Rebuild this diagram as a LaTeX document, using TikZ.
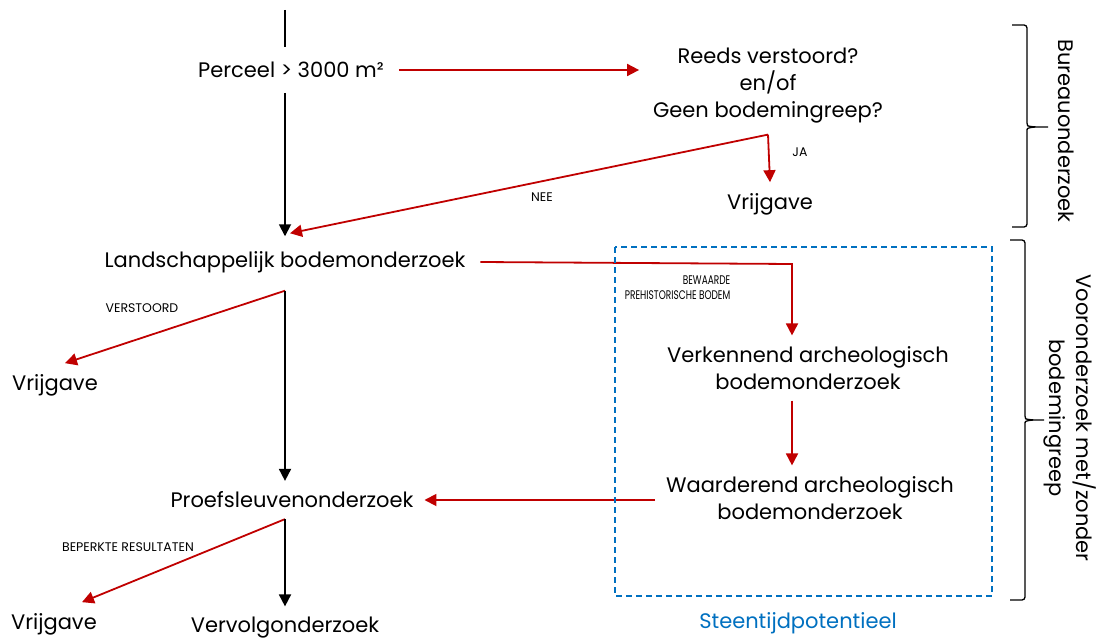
\documentclass[tikz,border=0pt]{standalone}
\usepackage{fontspec}
\setmainfont{Poppins}
\usetikzlibrary{arrows.meta}
\definecolor{rood}{RGB}{192,0,0}
\definecolor{blauw}{RGB}{0,112,192}
\begin{document}
\begin{tikzpicture}[>={Triangle[length=12pt,width=12pt]},x=1pt,y=-1pt,line width=1.8pt,
    stap/.style={font=\fontsize{21}{27}\selectfont,align=center,inner sep=0pt,outer sep=11pt},
    klein/.style={font=\fontsize{12.5}{15}\selectfont,inner sep=0pt},
    ja/.style={->},
    nee/.style={->,rood}]
    \useasboundingbox (0,0) rectangle (1100,639);
    % stappen
    \coordinate (begin) at (285,10);
    \node[stap,outer sep=15pt] (perceel) at (291,70) {Perceel > 3000 m²};
    \node[stap] (reeds) at (768,86) {Reeds verstoord?\\en/of\\Geen bodemingreep?};
    \node[stap] (vrij1) at (770,204) {Vrijgave};
    \node[stap,outer sep=15pt] (landschap) at (285,262) {Landschappelijk bodemonderzoek};
    \node[stap] (vrij2) at (55,385) {Vrijgave};
    \node[stap] (verkennend) at (808,368) {Verkennend archeologisch\\bodemonderzoek};
    \node[stap] (waarderend) at (810,498) {Waarderend archeologisch\\bodemonderzoek};
    \node[stap] (proef) at (292,500) {Proefsleuvenonderzoek};
    \node[stap] (vrij3) at (54,624) {Vrijgave};
    \node[stap] (vervolg) at (285,628) {Vervolgonderzoek};
    \coordinate (hoek) at (792,264);
    % verbindingen
    \draw (begin) -- (begin |- perceel.north);
    \draw[nee] (perceel.east) -- ([xshift=-3pt]perceel.east -| reeds.west);
    \draw[ja] (begin |- perceel.south) -- (begin |- landschap.north);
    \draw[nee] (reeds.south) -- (vrij1.north);
    \draw[nee] (reeds.south) -- ([xshift=5pt,yshift=3pt]landschap.north);
    \draw[nee] (landschap.east) -- (hoek) -- (hoek |- verkennend.north);
    \draw[nee] ([yshift=-3pt]landschap.south) -- ([xshift=10pt]vrij2.north);
    \draw[ja] ([yshift=-3pt]landschap.south) -- (landschap.south |- proef.north);
    \draw[nee] (hoek |- verkennend.south) -- (hoek |- waarderend.north);
    \draw[nee] (waarderend.west |- proef) -- (proef.east);
    \draw[nee] (proef.south -| vervolg) -- ([xshift=28pt]vrij3.north);
    \draw[ja] (proef.south -| vervolg) -- (vervolg.north);
    % labels
    \node[klein] (ja) at (800,152) {JA};
    \node[klein] (nee) at (542,197) {NEE};
    \node[klein] (verstoord) at (142,308) {VERSTOORD};
    \node[klein,anchor=east,align=right,xscale=0.72,transform shape] (bewaard) at (731,288) {BEWAARDE\\PREHISTORISCHE BODEM};
    \node[klein] (beperkt) at (128,547) {BEPERKTE RESULTATEN};
    % steentijd
    \draw[blauw,line width=1.6pt,dash pattern=on 6pt off 4pt] (615,247) rectangle (992,596);
    \node[stap,blauw,outer sep=0pt] (steentijd) at (798,623) {Steentijdpotentieel};
    % accolades
    \draw[line width=1.3pt,rounded corners=3pt] (1012,25) -- (1027,25) -- (1027,120)
        .. controls (1027,126) .. (1035,127) -- (1048,127);
    \draw[line width=1.3pt,rounded corners=3pt] (1035,127) .. controls (1027,128) .. (1027,134)
        -- (1027,227) -- (1012,227);
    \draw[line width=1.3pt,rounded corners=3pt] (1010,240) -- (1025,240) -- (1025,413)
        .. controls (1025,419) .. (1033,420) -- (1044,420);
    \draw[line width=1.3pt,rounded corners=3pt] (1033,420) .. controls (1025,421) .. (1025,427)
        -- (1025,600) -- (1010,600);
    \node[stap,rotate=-90,outer sep=0pt] (bureau) at (1066,131) {Bureauonderzoek};
    \node[stap,rotate=-90,outer sep=0pt] (voor) at (1070,418) {Vooronderzoek met/zonder\\bodemingreep};
\end{tikzpicture}
\end{document}
